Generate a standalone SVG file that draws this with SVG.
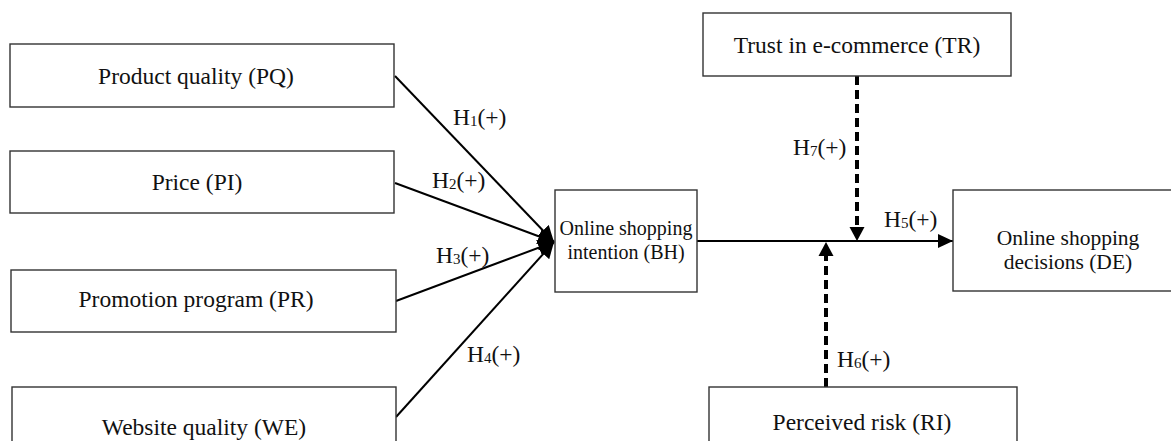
<svg xmlns="http://www.w3.org/2000/svg" width="1171" height="441" viewBox="0 0 1171 441">
  <style>
    .box { fill: #ffffff; stroke: #333333; stroke-width: 1.4; }
    .lbl { font-family: "Liberation Serif", "Times New Roman", serif; font-size: 23.5px; fill: #111111; text-anchor: middle; }
    .mid { font-size: 21.5px; }
    .small { font-size: 20px; }
    .hyp { font-family: "Liberation Serif", "Times New Roman", serif; font-size: 23.5px; fill: #111111; }
    .sub { font-size: 15px; }
    .link { stroke: #000000; stroke-width: 2; fill: none; }
    .dash { stroke: #000000; stroke-width: 4; fill: none; stroke-dasharray: 9 5; }
  </style>
  <defs>
    <marker id="arrow" viewBox="0 0 10 10" refX="10" refY="5" markerWidth="15" markerHeight="14" markerUnits="userSpaceOnUse" orient="auto" preserveAspectRatio="none">
      <path d="M0,0 L10,5 L0,10 z" fill="#000000"/>
    </marker>
    <marker id="arrowBig" viewBox="0 0 10 10" refX="10" refY="5" markerWidth="16" markerHeight="16" markerUnits="userSpaceOnUse" orient="auto">
      <path d="M0,0 L10,5 L0,10 z" fill="#000000"/>
    </marker>
  </defs>

  <!-- connectors and hypothesis labels -->
  <g id="connectors">
    <line class="link" x1="395" y1="76" x2="554" y2="242" marker-end="url(#arrowBig)"/>
    <line class="link" x1="395" y1="183" x2="554" y2="242" marker-end="url(#arrowBig)"/>
    <line class="link" x1="396" y1="301" x2="554" y2="242" marker-end="url(#arrowBig)"/>
    <line class="link" x1="396" y1="417" x2="554" y2="242" marker-end="url(#arrowBig)"/>
    <line class="link" x1="697" y1="241" x2="953" y2="241" marker-end="url(#arrow)"/>
    <line class="dash" x1="857" y1="76" x2="857" y2="228"/>
    <path d="M849.5,227 L864.5,227 L857,241 z" fill="#000000"/>
    <line class="dash" x1="826" y1="387" x2="826" y2="256"/>
    <path d="M818.5,256 L833.5,256 L826,242 z" fill="#000000"/>

    <text class="hyp" x="453" y="125">H<tspan class="sub" dy="1">1</tspan><tspan dy="-1">(+)</tspan></text>
    <text class="hyp" x="432" y="188">H<tspan class="sub" dy="1">2</tspan><tspan dy="-1">(+)</tspan></text>
    <text class="hyp" x="436" y="263">H<tspan class="sub" dy="1">3</tspan><tspan dy="-1">(+)</tspan></text>
    <text class="hyp" x="467" y="362">H<tspan class="sub" dy="1">4</tspan><tspan dy="-1">(+)</tspan></text>
    <text class="hyp" x="884" y="227">H<tspan class="sub" dy="1">5</tspan><tspan dy="-1">(+)</tspan></text>
    <text class="hyp" x="837" y="367">H<tspan class="sub" dy="1">6</tspan><tspan dy="-1">(+)</tspan></text>
    <text class="hyp" x="793" y="155">H<tspan class="sub" dy="1">7</tspan><tspan dy="-1">(+)</tspan></text>
  </g>

  <g id="PQ">
    <rect class="box" x="10" y="44" width="384" height="63"/>
    <text class="lbl" x="196" y="84">Product quality (PQ)</text>
  </g>
  <g id="PI">
    <rect class="box" x="10" y="151" width="384" height="62"/>
    <text class="lbl" x="197" y="190">Price (PI)</text>
  </g>
  <g id="PR">
    <rect class="box" x="11" y="270" width="385" height="62"/>
    <text class="lbl" x="196" y="307">Promotion program (PR)</text>
  </g>
  <g id="WE">
    <rect class="box" x="12" y="387" width="384" height="70"/>
    <text class="lbl" x="204" y="435">Website quality (WE)</text>
  </g>
  <g id="BH">
    <rect class="box" x="555" y="190" width="142" height="102"/>
    <text class="lbl small" x="626" y="235">Online shopping</text>
    <text class="lbl small" x="626" y="259">intention (BH)</text>
  </g>
  <g id="TR">
    <rect class="box" x="703" y="13" width="308" height="63"/>
    <text class="lbl" x="857" y="53">Trust in e-commerce (TR)</text>
  </g>
  <g id="DE">
    <rect class="box" x="953" y="190" width="230" height="101"/>
    <text class="lbl mid" x="1068" y="245">Online shopping</text>
    <text class="lbl mid" x="1068" y="269">decisions (DE)</text>
  </g>
  <g id="RI">
    <rect class="box" x="709" y="387" width="308" height="70"/>
    <text class="lbl" x="862" y="430">Perceived risk (RI)</text>
  </g>
</svg>
